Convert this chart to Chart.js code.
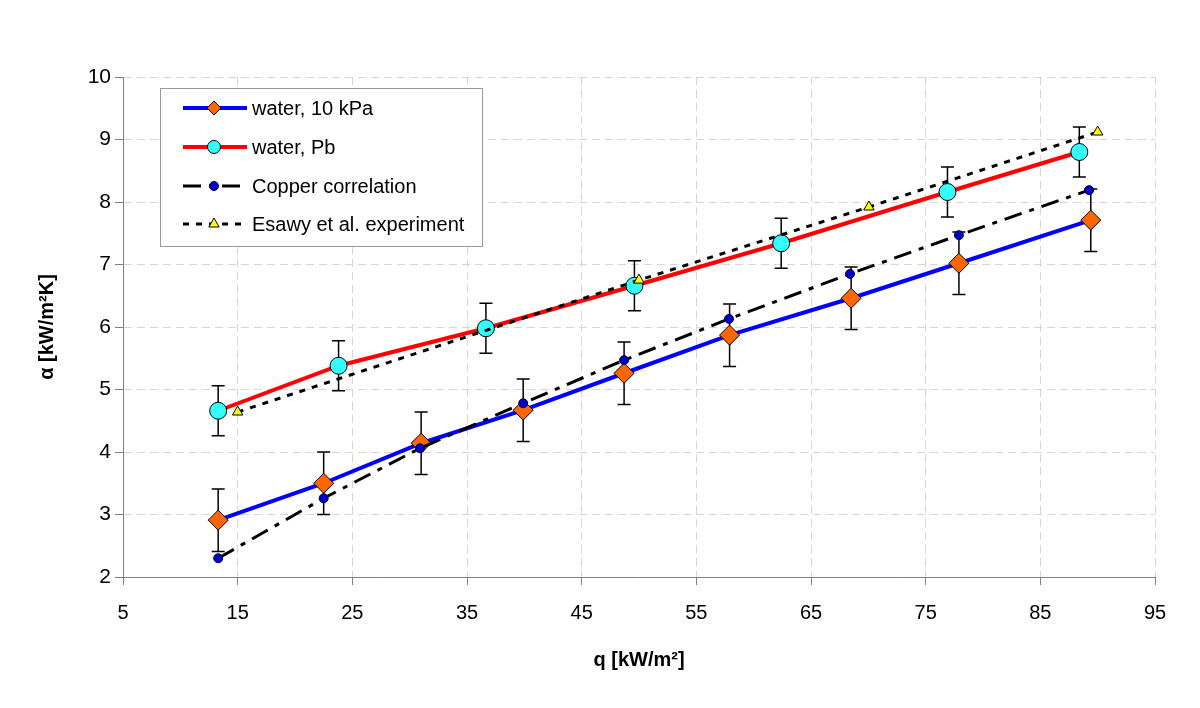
<!DOCTYPE html>
<html lang="en">
<head>
    <meta charset="UTF-8">
    <title>Heat transfer coefficient vs heat flux</title>
    <script src="https://cdn.jsdelivr.net/npm/chart.js"></script>
    <style>
        body { margin: 0; background: #fff; }
        canvas { display: block; }
    </style>
</head>
<body>
    <canvas id="chart" width="1200" height="708"></canvas>

    <script>
        // water, 10 kPa
        const qWater10 = [13.3, 22.5, 31.0, 39.9, 48.7, 57.9, 68.5, 77.9, 89.4];
        const aWater10 = [2.91, 3.50, 4.14, 4.67, 5.26, 5.87, 6.46, 7.02, 7.71];
        const errWater10 = [0.5, 0.5, 0.5, 0.5, 0.5, 0.5, 0.5, 0.5, 0.5];

        // water, Pb
        const qWaterPb = [13.3, 23.8, 36.65, 49.6, 62.4, 76.9, 88.4];
        const aWaterPb = [4.66, 5.38, 5.98, 6.66, 7.34, 8.16, 8.80];
        const errWaterPb = [0.4, 0.4, 0.4, 0.4, 0.4, 0.4, 0.4];

        // Copper correlation
        const qCopper = [13.3, 22.5, 30.9, 39.9, 48.7, 57.85, 68.4, 77.9, 89.25];
        const aCopper = [2.30, 3.26, 4.06, 4.78, 5.47, 6.13, 6.85, 7.47, 8.19];

        // Esawy et al. experiment
        const qEsawy = [15.0, 50.0, 70.05, 90.0];
        const aEsawy = [4.64, 6.75, 7.92, 9.12];

        const xTicks = [5, 15, 25, 35, 45, 55, 65, 75, 85, 95];
        const yTicks = [2, 3, 4, 5, 6, 7, 8, 9, 10];

        const pts = (xs, ys) => xs.map((x, i) => ({ x: x, y: ys[i] }));

        const series = [
            { label: 'water, 10 kPa', data: pts(qWater10, aWater10), err: errWater10,
              borderColor: '#0000FF', borderWidth: 4, borderDash: [],
              pointStyle: 'rectRot', pointRadius: 10, pointBackgroundColor: '#FF6600',
              pointBorderColor: '#000', pointBorderWidth: 1, order: 4 },
            { label: 'water, Pb', data: pts(qWaterPb, aWaterPb), err: errWaterPb,
              borderColor: '#FF0000', borderWidth: 4, borderDash: [],
              pointStyle: 'circle', pointRadius: 8.5, pointBackgroundColor: '#33FFFF',
              pointBorderColor: '#000', pointBorderWidth: 1, order: 3 },
            { label: 'Copper correlation', data: pts(qCopper, aCopper),
              borderColor: '#000', borderWidth: 3, borderDash: [18, 8, 5, 8],
              pointStyle: 'circle', pointRadius: 4.5, pointBackgroundColor: '#0000CC',
              pointBorderColor: '#000033', pointBorderWidth: 1, order: 2 },
            { label: 'Esawy et al. experiment', data: pts(qEsawy, aEsawy),
              borderColor: '#000', borderWidth: 3, borderDash: [6, 7],
              pointStyle: 'triangle', pointRadius: 6, pointBackgroundColor: '#FFFF00',
              pointBorderColor: '#000', pointBorderWidth: 1, order: 1 }
        ];

        // error bars, drawn under the markers
        const errorBars = {
            id: 'errorBars',
            beforeDatasetsDraw(chart) {
                const ctx = chart.ctx;
                const xs = chart.scales.x, ys = chart.scales.y;
                ctx.save();
                ctx.strokeStyle = '#000';
                ctx.lineWidth = 1.5;
                chart.data.datasets.forEach(ds => {
                    if (!ds.err) return;
                    ds.data.forEach((p, i) => {
                        const px = xs.getPixelForValue(p.x);
                        const top = ys.getPixelForValue(p.y + ds.err[i]);
                        const bot = ys.getPixelForValue(p.y - ds.err[i]);
                        ctx.beginPath();
                        ctx.moveTo(px, top); ctx.lineTo(px, bot);
                        ctx.moveTo(px - 6.5, top); ctx.lineTo(px + 6.5, top);
                        ctx.moveTo(px - 6.5, bot); ctx.lineTo(px + 6.5, bot);
                        ctx.stroke();
                    });
                });
                ctx.restore();
            }
        };

        // Excel-like legend box
        const boxLegend = {
            id: 'boxLegend',
            afterDraw(chart) {
                const ctx = chart.ctx;
                const bx = 160, by = 88, bw = 322, bh = 158;
                ctx.save();
                ctx.fillStyle = '#fff';
                ctx.fillRect(bx, by, bw, bh);
                ctx.strokeStyle = '#999';
                ctx.lineWidth = 1;
                ctx.strokeRect(bx + 0.5, by + 0.5, bw, bh);
                const rows = [108, 147, 186, 224];
                chart.data.datasets.forEach((ds, i) => {
                    const y = rows[i];
                    ctx.save();
                    ctx.strokeStyle = ds.borderColor;
                    ctx.lineWidth = ds.borderWidth;
                    ctx.setLineDash(ds.borderDash);
                    ctx.beginPath();
                    ctx.moveTo(183, y); ctx.lineTo(247, y);
                    ctx.stroke();
                    ctx.restore();
                    ctx.fillStyle = ds.pointBackgroundColor;
                    ctx.strokeStyle = ds.pointBorderColor;
                    ctx.lineWidth = 1;
                    const r = ds.pointStyle === 'rectRot' ? 7 : ds.pointStyle === 'circle' && ds.pointRadius > 5 ? 6.5 : ds.pointRadius;
                    Chart.helpers.drawPoint(ctx, { pointStyle: ds.pointStyle, radius: r, borderWidth: 1 }, 214, y);
                    ctx.fillStyle = '#000';
                    ctx.font = '20px Arial, "Liberation Sans", sans-serif';
                    ctx.textBaseline = 'middle';
                    ctx.fillText(ds.label, 252, y + 1);
                });
                ctx.restore();
            }
        };

        const gridOpts = {
            color: '#d6d6d6',
            lineWidth: 1,
            drawTicks: true,
            tickLength: 8,
            tickColor: '#808080',
            tickBorderDash: []
        };
        const borderOpts = { display: true, color: '#808080', width: 1, dash: [8, 5] };

        new Chart(document.getElementById('chart'), {
            type: 'scatter',
            data: {
                datasets: series.map(s => Object.assign({ showLine: true, tension: 0, fill: false }, s))
            },
            options: {
                responsive: false,
                animation: false,
                layout: { padding: { top: 77, right: 45, left: 0, bottom: 0 } },
                plugins: { legend: { display: false }, tooltip: { enabled: false } },
                scales: {
                    x: {
                        type: 'linear', min: 5, max: 95,
                        afterFit(s) { s.height = 131; },
                        afterBuildTicks(s) { s.ticks = xTicks.map(v => ({ value: v })); },
                        grid: gridOpts,
                        border: borderOpts,
                        ticks: { color: '#000', padding: 16, maxRotation: 0,
                                 font: { family: 'Arial, "Liberation Sans", sans-serif', size: 20 } },
                        title: { display: true, text: 'q [kW/m²]', color: '#000',
                                 padding: { top: 0, bottom: 36 },
                                 font: { family: 'Arial, "Liberation Sans", sans-serif', size: 20, weight: 'bold' } }
                    },
                    y: {
                        type: 'linear', min: 2, max: 10,
                        afterFit(s) { s.width = 123; },
                        afterBuildTicks(s) { s.ticks = yTicks.map(v => ({ value: v })); },
                        grid: gridOpts,
                        border: borderOpts,
                        ticks: { color: '#000', padding: 4,
                                 font: { family: 'Arial, "Liberation Sans", sans-serif', size: 21 } },
                        title: { display: true, text: 'α [kW/m²K]', color: '#000',
                                 padding: { top: 35, bottom: 0 },
                                 font: { family: 'Arial, "Liberation Sans", sans-serif', size: 20, weight: 'bold' } }
                    }
                }
            },
            plugins: [errorBars, boxLegend]
        });
    </script>
</body>
</html>
